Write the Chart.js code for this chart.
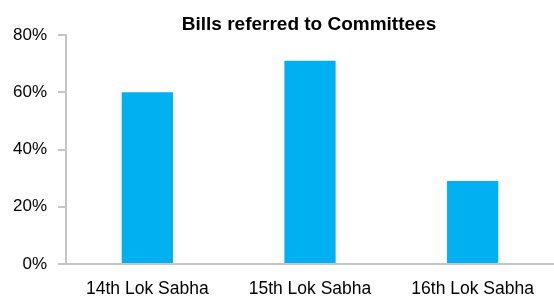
<!DOCTYPE html>
<html>
<head>
<meta charset="utf-8">
<script src="https://cdn.jsdelivr.net/npm/chart.js@4"></script>
<style>
  html, body { margin: 0; padding: 0; background: #fff; overflow: hidden; }
  canvas { display: block; }
</style>
</head>
<body>
<canvas id="chart" width="554" height="300"></canvas>
<script>
const categories = ["14th Lok Sabha", "15th Lok Sabha", "16th Lok Sabha"];
const billsReferred = [60, 71, 29];
const yTicks = [0, 20, 40, 60, 80];
const chartTitle = "Bills referred to Committees";

const fontStack = "'Liberation Sans', Arial, sans-serif";

// title sits inside the plot area in the original, so draw it by hand
const titlePlugin = {
  id: "overlayTitle",
  afterDraw(chart) {
    const { ctx } = chart;
    ctx.save();
    ctx.font = "bold 19px " + fontStack;
    ctx.fillStyle = "#000";
    ctx.textAlign = "center";
    ctx.textBaseline = "middle";
    ctx.fillText(chartTitle, 309, 25);
    ctx.restore();
  }
};

Chart.defaults.font.family = fontStack;
Chart.defaults.font.size = 17.5;
Chart.defaults.color = "#000";

new Chart(document.getElementById("chart"), {
  type: "bar",
  data: {
    labels: categories,
    datasets: [{
      label: chartTitle,
      data: billsReferred,
      backgroundColor: "#00B0F0",
      borderWidth: 0,
      barPercentage: 0.315,
      categoryPercentage: 1
    }]
  },
  options: {
    responsive: false,
    animation: false,
    layout: { padding: { top: 35, right: -3, bottom: 0, left: 13 } },
    plugins: {
      legend: { display: false },
      tooltip: { enabled: false },
      title: { display: false }
    },
    scales: {
      x: {
        grid: { display: false, drawTicks: false },
        border: { color: "#c6c6c6", width: 2 },
        ticks: { padding: 15, color: "#000" },
        afterFit: axis => { axis.height = 36; }
      },
      y: {
        min: 0,
        max: 80,
        afterBuildTicks: axis => { axis.ticks = yTicks.map(v => ({ value: v })); },
        grid: { drawOnChartArea: false, drawTicks: true, tickLength: 8, color: "#c6c6c6", lineWidth: 2 },
        border: { color: "#c6c6c6", width: 2 },
        ticks: { padding: 11, color: "#000", font: { size: 17 }, callback: v => v + "%" },
        afterFit: axis => { axis.width = 53; }
      }
    }
  },
  plugins: [titlePlugin]
});
</script>
</body>
</html>
